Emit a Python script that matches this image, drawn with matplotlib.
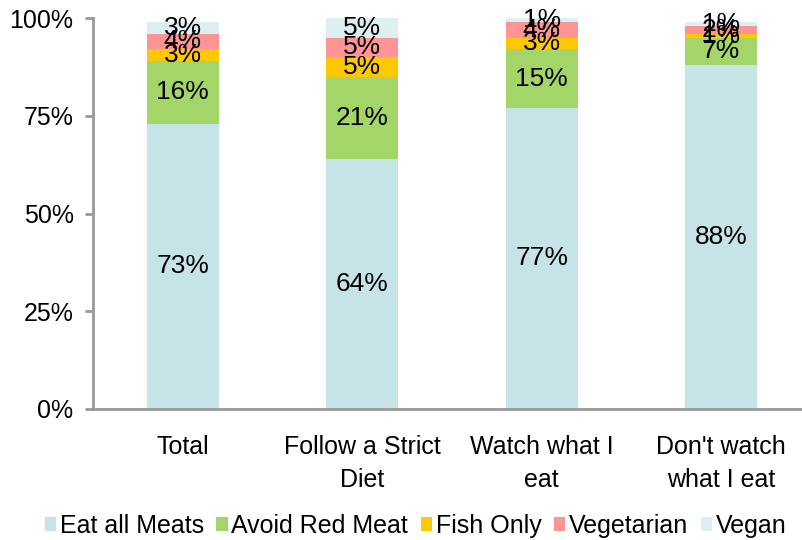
import matplotlib
matplotlib.use('Agg')
import numpy as np
from matplotlib import pyplot as plt
from matplotlib.ticker import PercentFormatter

plt.rcParams['font.family'] = ['Liberation Sans', 'DejaVu Sans']

groups = ['Total', 'Follow a Strict\nDiet', 'Watch what I\neat', "Don't watch\nwhat I eat"]
series = ['Eat all Meats', 'Avoid Red Meat', 'Fish Only', 'Vegetarian', 'Vegan']
eat_all_meats = [73, 64, 77, 88]
avoid_red_meat = [16, 21, 15, 7]
fish_only = [3, 5, 3, 1]
vegetarian = [4, 5, 4, 2]
vegan = [3, 5, 1, 1]
colors = ['#C6E4E8', '#A3D569', '#FFC800', '#FF9495', '#DEEFF1']

fig = plt.figure(figsize=(8.02, 5.40), dpi=100)
ax = fig.add_axes([93 / 802, 131 / 540, 709 / 802, 391 / 540])

x = np.arange(len(groups))
bottom = np.zeros(len(groups))
for name, vals, c in zip(series, [eat_all_meats, avoid_red_meat, fish_only, vegetarian, vegan], colors):
    vals = np.array(vals, dtype=float)
    ax.bar(x, vals, 0.4, bottom=bottom, color=c, label=name, zorder=2)
    for xi, b, v in zip(x, bottom, vals):
        ax.text(xi, b + v / 2, f'{v:.0f}%', ha='center', va='center', fontsize=19, zorder=3)
    bottom += vals

ax.set_xlim(-0.5, 3.45)
ax.set_ylim(0, 100)
ax.set_yticks([0, 25, 50, 75, 100])
ax.yaxis.set_major_formatter(PercentFormatter(decimals=0))
ax.set_xticks(x)
ax.set_xticklabels(groups, fontsize=18, linespacing=1.45)
ax.tick_params(axis='y', labelsize=18, length=6, width=2, color='#999999', pad=8)
ax.tick_params(axis='x', length=0, pad=19)
for s in ['top', 'right']:
    ax.spines[s].set_visible(False)
for s in ['left', 'bottom']:
    ax.spines[s].set_color('#999999')
    ax.spines[s].set_linewidth(2)

ax.legend(loc='lower center', bbox_to_anchor=(0.5 - 32 / 709, -0.355), ncol=5, frameon=False,
          fontsize=18, handlelength=0.45, handleheight=0.45, handletextpad=0.15, columnspacing=0.5,
          borderaxespad=0)

fig.savefig('out.png', dpi=100)
